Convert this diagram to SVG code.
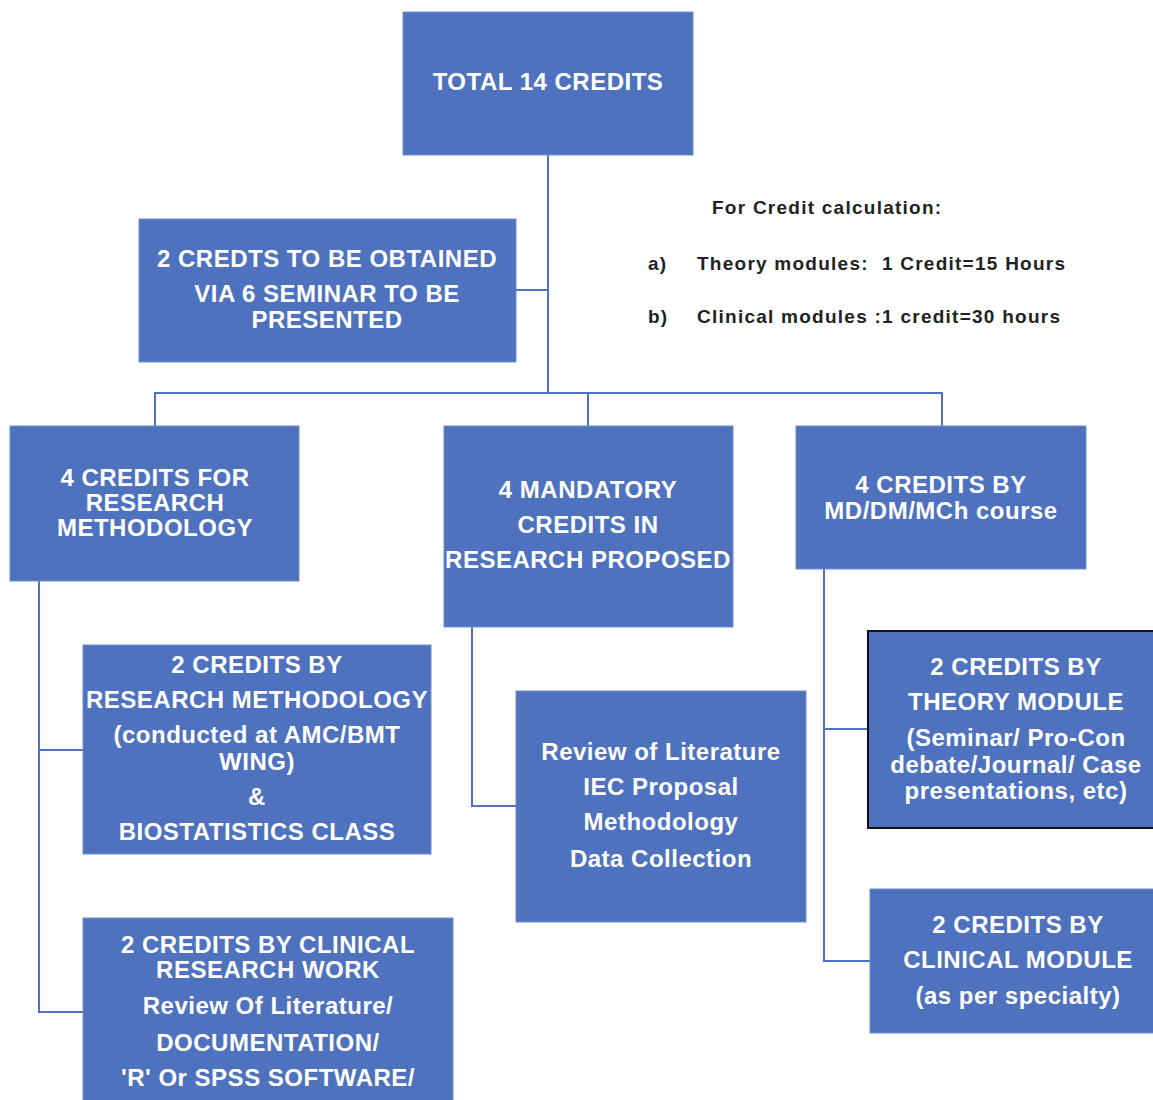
<svg xmlns="http://www.w3.org/2000/svg" width="1153" height="1100" viewBox="0 0 1153 1100">
<style>
.box{fill:#4E72BE;stroke:#6F8ED0;stroke-width:1}
.t{font-family:"Liberation Sans",Arial,sans-serif;font-weight:bold;font-size:24px;letter-spacing:0.5px;fill:#fff;text-anchor:middle}
.n{font-family:"Liberation Sans",Arial,sans-serif;font-weight:bold;font-size:19px;letter-spacing:1.25px;fill:#222}
.c{fill:none;stroke:#4E72BE;stroke-width:2}
</style>
<rect width="1153" height="1100" fill="#fff"/>
<g id="connectors">
<path class="c" d="M548,155 V393 M516,290 H548 M155,426 V393 H942 V426 M588,393 V426"/>
<path class="c" d="M39,581 V1012 H83 M39,750 H83"/>
<path class="c" d="M472,627 V806 H516"/>
<path class="c" d="M824,569 V961 H870 M824,729 H868"/>
</g>
<g id="total">
<rect class="box" x="403" y="12" width="290" height="143"/>
<text class="t" x="548" y="90">TOTAL 14 CREDITS</text>
</g>
<g id="seminar">
<rect class="box" x="139" y="219" width="377" height="143"/>
<text class="t" x="327" y="267">2 CREDTS TO BE OBTAINED</text>
<text class="t" x="327" y="302">VIA 6 SEMINAR TO BE</text>
<text class="t" x="327" y="328">PRESENTED</text>
</g>
<g id="notes">
<text class="n" x="712" y="214">For Credit calculation:</text>
<text class="n" x="648" y="270">a)</text>
<text class="n" x="697" y="270" xml:space="preserve">Theory modules:  1 Credit=15 Hours</text>
<text class="n" x="648" y="323">b)</text>
<text class="n" x="697" y="323">Clinical modules :1 credit=30 hours</text>
</g>
<g id="research-methodology">
<rect class="box" x="10" y="426" width="289" height="155"/>
<text class="t" x="155" y="486">4 CREDITS FOR</text>
<text class="t" x="155" y="511">RESEARCH</text>
<text class="t" x="155" y="536">METHODOLOGY</text>
</g>
<g id="mandatory">
<rect class="box" x="444" y="426" width="289" height="201"/>
<text class="t" x="588" y="498">4 MANDATORY</text>
<text class="t" x="588" y="533">CREDITS IN</text>
<text class="t" x="588" y="568">RESEARCH PROPOSED</text>
</g>
<g id="course">
<rect class="box" x="796" y="426" width="290" height="143"/>
<text class="t" x="941" y="493">4 CREDITS BY</text>
<text class="t" x="941" y="519">MD/DM/MCh course</text>
</g>
<g id="rm-biostat">
<rect class="box" x="83" y="645" width="348" height="209"/>
<text class="t" x="257" y="673">2 CREDITS BY</text>
<text class="t" x="257" y="708">RESEARCH METHODOLOGY</text>
<text class="t" x="257" y="743">(conducted at AMC/BMT</text>
<text class="t" x="257" y="770">WING)</text>
<text class="t" x="257" y="805">&amp;</text>
<text class="t" x="257" y="840">BIOSTATISTICS CLASS</text>
</g>
<g id="clinical-research">
<rect class="box" x="83" y="918" width="370" height="190"/>
<text class="t" x="268" y="953">2 CREDITS BY CLINICAL</text>
<text class="t" x="268" y="978">RESEARCH WORK</text>
<text class="t" x="268" y="1014">Review Of Literature/</text>
<text class="t" x="268" y="1051">DOCUMENTATION/</text>
<text class="t" x="268" y="1086">'R' Or SPSS SOFTWARE/</text>
</g>
<g id="review">
<rect class="box" x="516" y="691" width="290" height="231"/>
<text class="t" x="661" y="760">Review of Literature</text>
<text class="t" x="661" y="795">IEC Proposal</text>
<text class="t" x="661" y="830">Methodology</text>
<text class="t" x="661" y="867">Data Collection</text>
</g>
<g id="theory">
<rect x="868" y="631" width="290" height="197" fill="#4E72BE" stroke="#111" stroke-width="2"/>
<text class="t" x="1016" y="675">2 CREDITS BY</text>
<text class="t" x="1016" y="710">THEORY MODULE</text>
<text class="t" x="1016" y="746">(Seminar/ Pro-Con</text>
<text class="t" x="1016" y="773">debate/Journal/ Case</text>
<text class="t" x="1016" y="799">presentations, etc)</text>
</g>
<g id="clinical-module">
<rect class="box" x="870" y="889" width="290" height="144"/>
<text class="t" x="1018" y="933">2 CREDITS BY</text>
<text class="t" x="1018" y="968">CLINICAL MODULE</text>
<text class="t" x="1018" y="1004">(as per specialty)</text>
</g>
</svg>
